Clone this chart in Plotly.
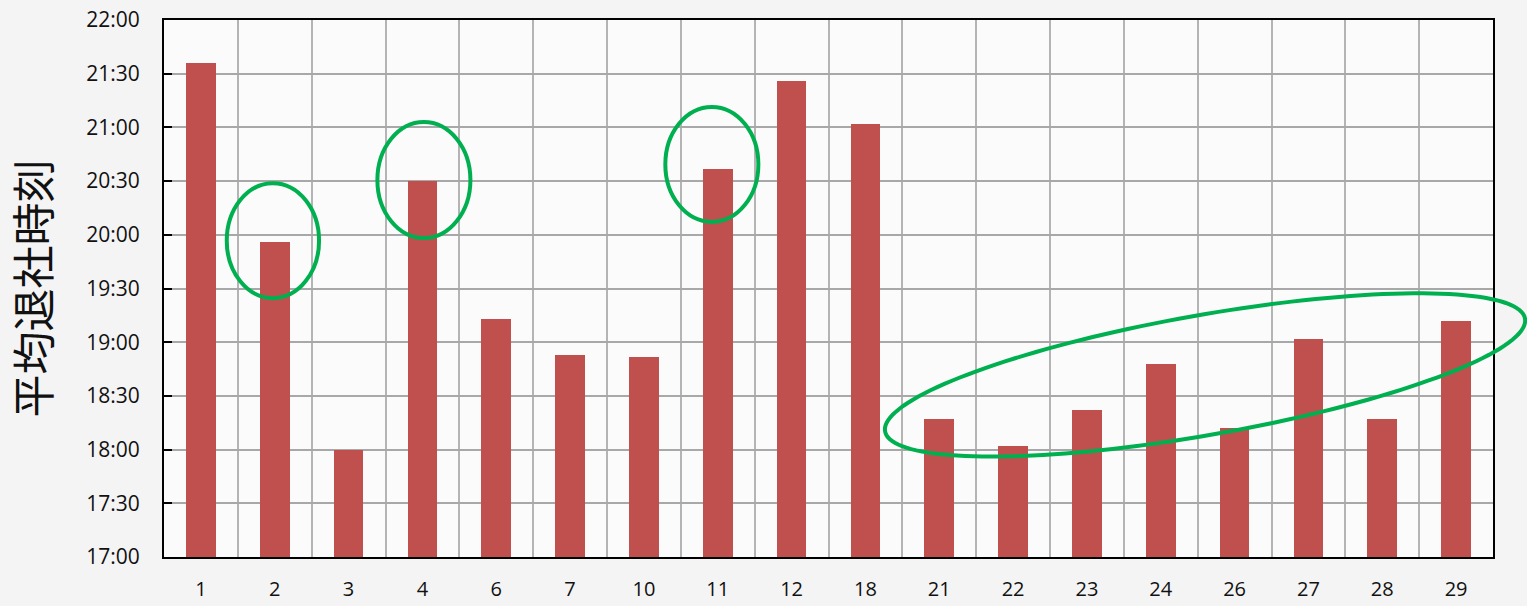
import numpy as np
import plotly.graph_objects as go

# ---- data ----
categories = ["1", "2", "3", "4", "6", "7", "10", "11", "12", "18",
              "21", "22", "23", "24", "26", "27", "28", "29"]
leave_times = ["21:36", "19:56", "18:00", "20:30", "19:13", "18:53", "18:52", "20:37", "21:26", "21:02",
               "18:17", "18:02", "18:22", "18:48", "18:12", "19:02", "18:17", "19:12"]
y_tick_labels = ["17:00", "17:30", "18:00", "18:30", "19:00", "19:30",
                 "20:00", "20:30", "21:00", "21:30", "22:00"]
y_title = "平均退社時刻"


def to_hours(s):
    h, m = s.split(":")
    return int(h) + int(m) / 60.0


values = [to_hours(t) for t in leave_times]
y_tick_vals = [to_hours(t) for t in y_tick_labels]
x_pos = list(range(len(categories)))

BAR = "#C0504D"
GREEN = "#00B050"
N = len(categories)
Y0, Y1 = 17.0, 22.0

fig = go.Figure()
fig.add_trace(go.Bar(
    x=x_pos, y=values, width=0.4,
    marker=dict(color=BAR, line=dict(width=0)),
    hovertext=leave_times, hoverinfo="text",
))

# highlight ellipses (decorations, data coordinates)
small_ellipses = [
    (0.35, 19.41, 1.60, 20.48),
    (2.39, 19.97, 3.65, 21.05),
    (6.29, 20.12, 7.55, 21.19),
]
for x0, y0, x1, y1 in small_ellipses:
    fig.add_shape(type="circle", xref="x", yref="y", x0=x0, y0=y0, x1=x1, y1=y1,
                  line=dict(color=GREEN, width=4), layer="above")

# big tilted ellipse (in paper coords so it may extend beyond the plot area)
cx, cy = 13.60, 18.695
A = (4.334, 0.525)
B = (0.141, -0.550)
t = np.linspace(0, 2 * np.pi, 160)
px = cx + np.cos(t) * A[0] + np.sin(t) * B[0]
py = cy + np.cos(t) * A[1] + np.sin(t) * B[1]
ppx = (px + 0.5) / N
ppy = (py - Y0) / (Y1 - Y0)
path = "M " + " L ".join(f"{a:.5f},{b:.5f}" for a, b in zip(ppx, ppy)) + " Z"
fig.add_shape(type="path", xref="paper", yref="paper", path=path,
              line=dict(color=GREEN, width=4), layer="above")

tick_font = dict(family="Open Sans, Lato, sans-serif", size=21, color="#111111")
x_tick_font = dict(family="Open Sans, Lato, sans-serif", size=20, color="#111111")

fig.update_layout(
    width=1527, height=606,
    margin=dict(l=164, r=34, t=20, b=49),
    paper_bgcolor="#f4f4f4",
    plot_bgcolor="#fbfbfb",
    showlegend=False,
    bargap=0,
    xaxis=dict(
        range=[-0.5, N - 0.5],
        tickmode="array", tickvals=x_pos, ticktext=categories,
        showgrid=False, ticks="", tickfont=x_tick_font,
        showline=True, linecolor="black", linewidth=2, mirror=True,
        minor=dict(tick0=0.5, dtick=1, showgrid=True, gridcolor="#b4b4b4", gridwidth=1.5),
        zeroline=False, automargin=False,
        ticklabelstandoff=13,
    ),
    yaxis=dict(
        range=[Y0, Y1],
        tickmode="array", tickvals=y_tick_vals, ticktext=y_tick_labels,
        showgrid=True, gridcolor="#a8a8a8", gridwidth=1.5,
        ticks="inside", ticklen=8, tickcolor="black", tickwidth=1.5,
        tickfont=tick_font,
        showline=True, linecolor="black", linewidth=2, mirror=True,
        zeroline=False, automargin=False,
        ticklabelstandoff=18,
        title=dict(text=y_title, standoff=24,
                   font=dict(family="Noto Sans CJK JP", size=43, color="#111111")),
    ),
)

fig.write_html("out.html", config={"displayModeBar": False},
               post_script="document.body.style.margin='0';")
